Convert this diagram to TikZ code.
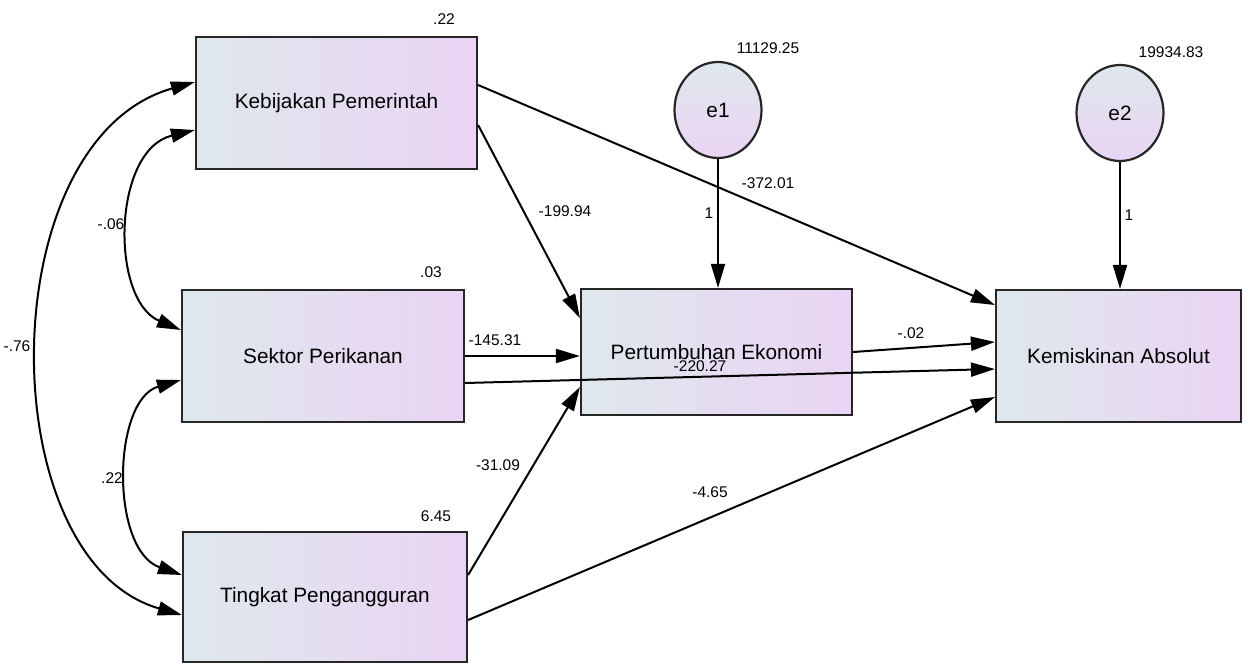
\documentclass[tikz,border=0pt]{standalone}
\usepackage{fontspec}
\setmainfont{Liberation Sans}
\usetikzlibrary{arrows.meta,shapes.geometric}
\definecolor{cl}{RGB}{222,232,236}
\definecolor{cr}{RGB}{234,212,244}
\begin{document}
\begin{tikzpicture}[x=1pt,y=-1pt,
  box/.style={draw=black!85, line width=2.2pt, left color=cl, right color=cr, inner sep=0pt, font=\fontsize{20.8}{24}\selectfont},
  err/.style={ellipse, draw=black!85, line width=2.2pt, top color=cl, bottom color=cr, inner sep=0pt, minimum width=87pt, minimum height=96pt, font=\fontsize{20.8}{24}\selectfont},
  arr/.style={line width=2pt, -{Triangle[length=24pt,width=14pt]}},
  dbl/.style={line width=2pt, {Triangle[length=24pt,width=14pt]}-{Triangle[length=24pt,width=14pt]}},
  lbl/.style={font=\fontsize{15.5}{18}\selectfont, inner sep=0pt}]
\useasboundingbox (0,0) rectangle (1248,664);
\fill[white] (0,0) rectangle (1248,664);

% boxes
\node[box, minimum width=281pt, minimum height=132pt] (kp) at (336.5,103) {Kebijakan Pemerintah};
\node[box, minimum width=282pt, minimum height=132pt] (sp) at (323,356) {Sektor Perikanan};
\node[box, minimum width=284pt, minimum height=130pt] (tp) at (325,597) {Tingkat Pengangguran};
\node[box, minimum width=271pt, minimum height=126pt] (pe) at (716.5,352) {Pertumbuhan Ekonomi};
\node[box, minimum width=245pt, minimum height=132pt] (ka) at (1118.5,356) {Kemiskinan Absolut};
\node[err] (e1) at (718,110) {e1};
\node[err] (e2) at (1120,113) {e2};

% variances
\node[lbl] (v1) at (444,19) {.22};
\node[lbl] (v2) at (431,272) {.03};
\node[lbl] (v3) at (436,516) {6.45};
\node[lbl] (v4) at (768,48) {11129.25};
\node[lbl] (v5) at (1171,52) {19934.83};

% regression paths
\draw[arr] ([yshift=18pt]kp.east) -- ([yshift=51pt]ka.west);
\draw[arr] ([yshift=-22pt]kp.east) -- ([yshift=34pt]pe.west);
\draw[arr] (sp.east) -- ([yshift=-4pt]pe.west);
\draw[arr] ([yshift=-27pt]sp.east) -- ([yshift=-13pt]ka.west);
\draw[arr] ([yshift=22pt]tp.east) -- ([yshift=-35pt]pe.west);
\draw[arr] ([yshift=-23pt]tp.east) -- ([yshift=-41pt]ka.west);
\draw[arr] (pe.east) -- ([yshift=14pt]ka.west);
\draw[arr] (e1.south) -- (e1.south |- pe.north);
\draw[arr] (e2.south) -- (e2.south |- ka.north);

% covariances
\draw[dbl] ([yshift=-27pt]kp.west) .. controls (112,150) and (110,300) .. ([yshift=26pt]sp.west);
\draw[dbl] ([yshift=-24pt]sp.west) .. controls (112,400) and (110,550) .. ([yshift=22pt]tp.west);
\draw[dbl] ([yshift=21pt]kp.west) .. controls (-10,140) and (-10,560) .. ([yshift=-18pt]tp.west);

% path labels
\node[lbl] (l1) at (768,183) {-372.01};
\node[lbl] (l2) at (565,211) {-199.94};
\node[lbl] (l3) at (495,340) {-145.31};
\node[lbl] (l4) at (700,366) {-220.27};
\node[lbl] (l5) at (498,465) {-31.09};
\node[lbl] (l6) at (710,492) {-4.65};
\node[lbl] (l7) at (911,333) {-.02};
\node[lbl] (l8) at (709,213) {1};
\node[lbl] (l9) at (1129,215) {1};
\node[lbl] (c1) at (111,224) {-.06};
\node[lbl] (c2) at (112,478) {.22};
\node[lbl] (c3) at (17,346) {-.76};
\end{tikzpicture}
\end{document}
